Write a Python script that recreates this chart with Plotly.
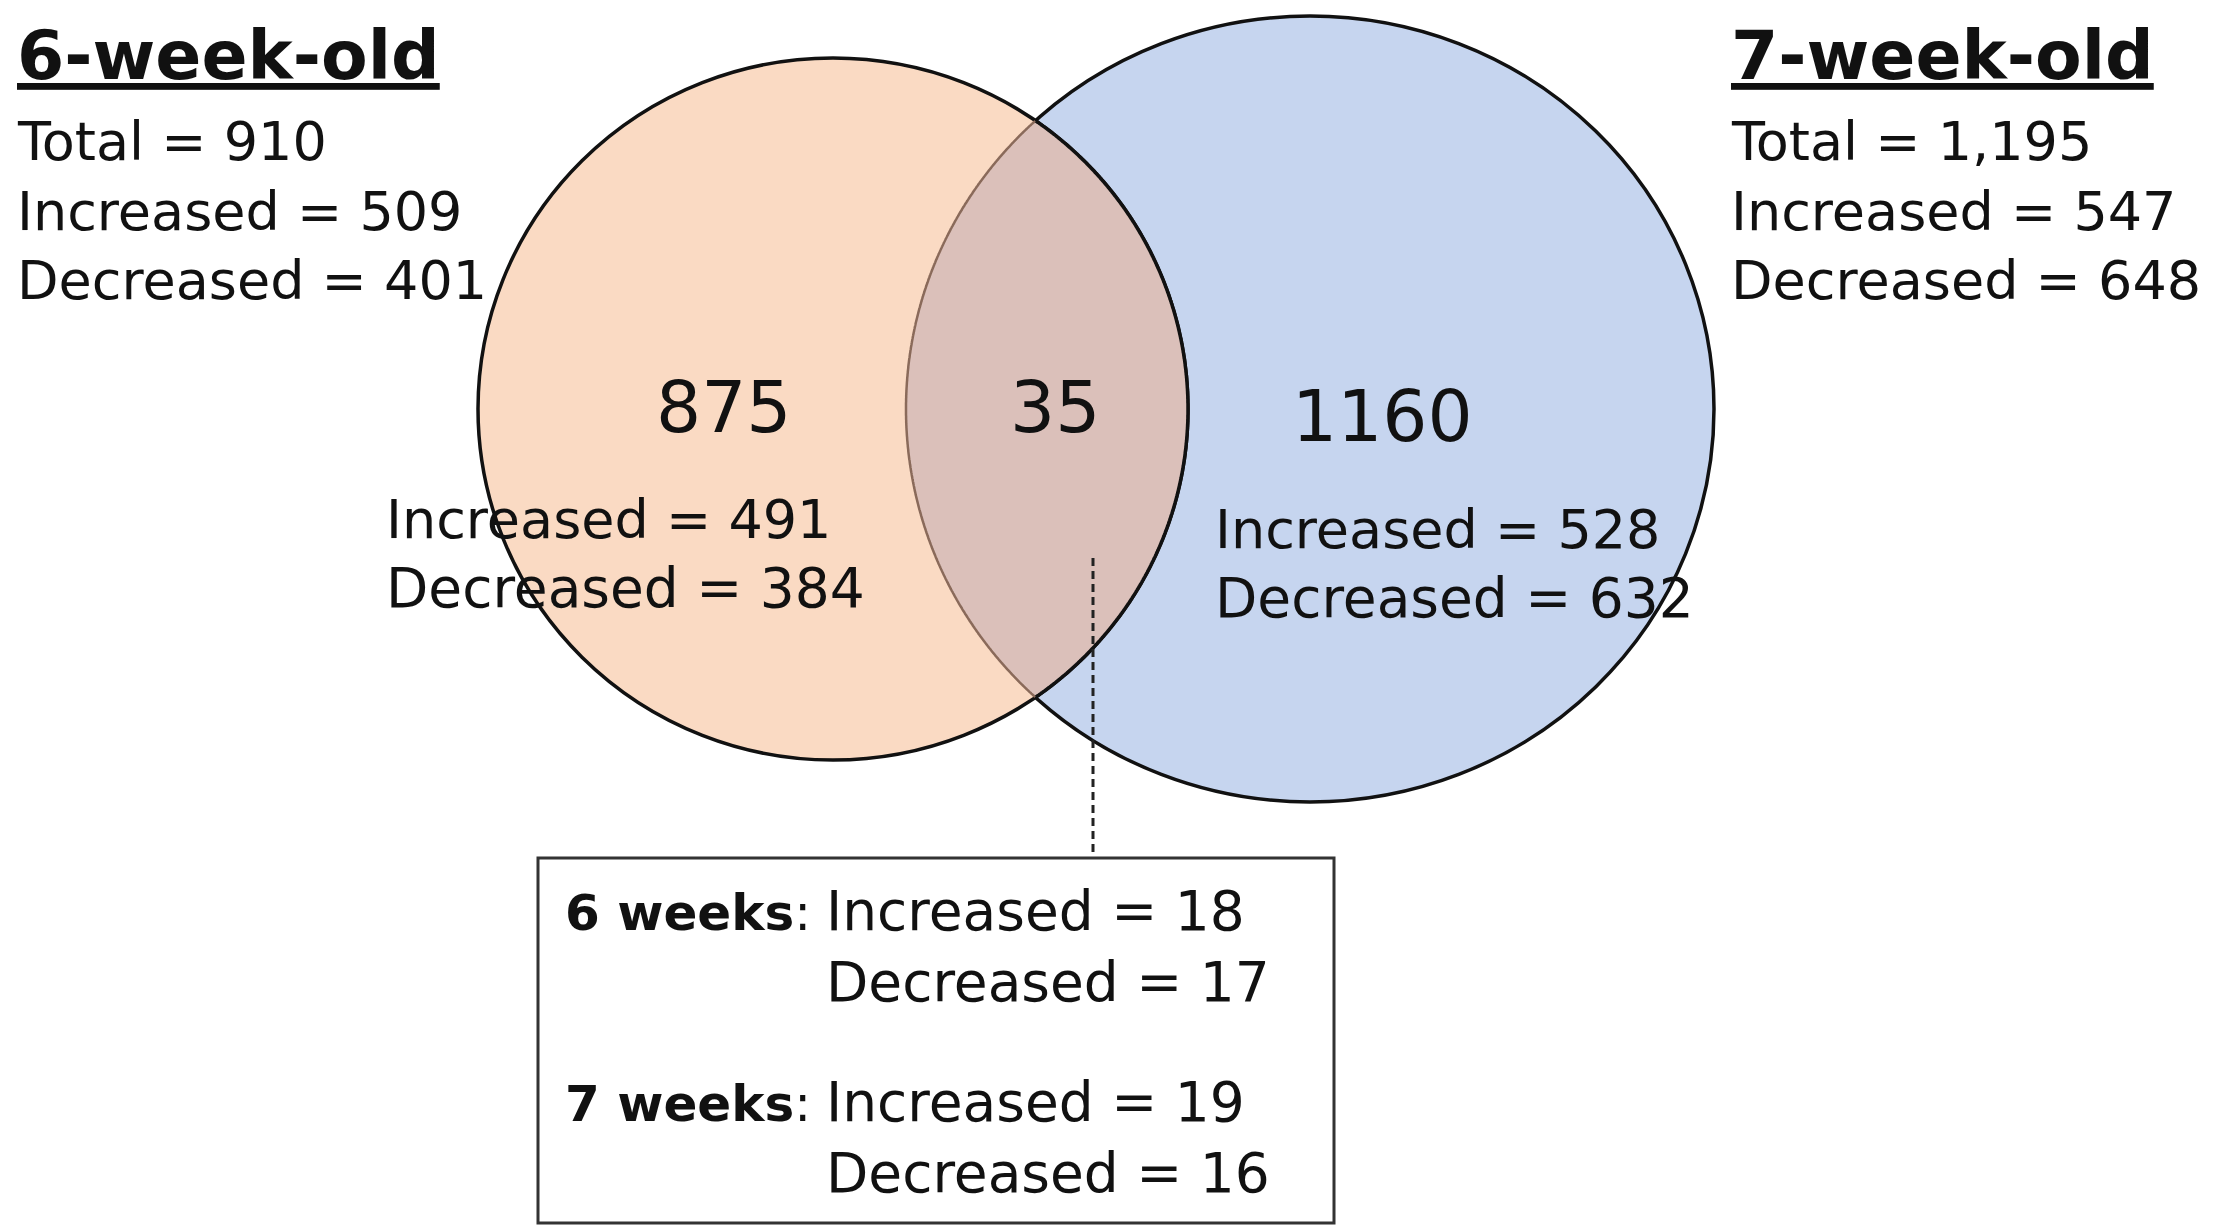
import numpy as np
import plotly.graph_objects as go

# Venn counts
groups = ["6-week-old", "7-week-old"]
totals = [910, 1195]
increased = [509, 547]
decreased = [401, 648]
only_counts = [875, 1160]
only_increased = [491, 528]
only_decreased = [384, 632]
shared_count = 35
shared_labels = ["6 weeks", "7 weeks"]
shared_increased = [18, 19]
shared_decreased = [17, 16]

W, H = 2217, 1232
FONT = "DejaVu Sans"
INK = "#111111"

# circle geometry (pixel units): cx, cy, rx, ry
left_c = (825, 401, 355, 351)
right_c = (1302, 401, 404, 393)

PEACH = "#FADAC3"
BLUE = "#C6D5EF"
LENS = "#DBC0BA"
BROWN = "#8A6A5A"


def ellipse_box(c):
    cx, cy, rx, ry = c
    return dict(x0=cx - rx, x1=cx + rx, y0=cy - ry, y1=cy + ry)


def inside(c, x, y):
    cx, cy, rx, ry = c
    return ((x - cx) / rx) ** 2 + ((y - cy) / ry) ** 2 <= 1


def arc_inside(c, other, t):
    cx, cy, rx, ry = c
    x = cx + rx * np.cos(t)
    y = cy + ry * np.sin(t)
    m = inside(other, x, y)
    return x[m], y[m]


def to_path(xs, ys, close=False):
    p = "M " + " L ".join(f"{a:.1f},{b:.1f}" for a, b in zip(xs, ys))
    return p + (" Z" if close else "")


t1 = np.linspace(-np.pi, np.pi, 3000)
t2 = np.linspace(0, 2 * np.pi, 3000)
lx, ly = arc_inside(left_c, right_c, t1)   # left circle's right arc (top -> bottom)
rx_, ry_ = arc_inside(right_c, left_c, t2)  # right circle's left arc (bottom -> top)

shapes = [
    dict(type="circle", xref="x", yref="y", fillcolor=BLUE,
         line=dict(color=INK, width=3.5), **ellipse_box(right_c)),
    dict(type="circle", xref="x", yref="y", fillcolor=PEACH,
         line=dict(color=INK, width=3.5), **ellipse_box(left_c)),
    dict(type="path", xref="x", yref="y", fillcolor=LENS, line=dict(width=0),
         path=to_path(np.r_[lx, rx_], np.r_[ly, ry_], close=True)),
    dict(type="path", xref="x", yref="y", line=dict(color=BROWN, width=2.5),
         path=to_path(rx_, ry_)),
    dict(type="path", xref="x", yref="y", line=dict(color=INK, width=3.5),
         path=to_path(lx, ly)),
    # leader line and shared box
    dict(type="line", xref="x", yref="y", x0=1085, x1=1085, y0=550, y1=850,
         line=dict(color="#222222", width=3, dash="8px,5px")),
    dict(type="rect", xref="x", yref="y", x0=530, x1=1326, y0=850, y1=1215,
         line=dict(color="#333333", width=3), fillcolor="rgba(0,0,0,0)"),
]

annotations = []


def label(x, baseline, text, size=54, anchor="left"):
    annotations.append(dict(
        x=x, y=baseline - 0.346 * size, xref="x", yref="y", text=text,
        showarrow=False, xanchor=anchor, yanchor="middle",
        font=dict(family=FONT, size=size, color=INK),
    ))


# group headers with totals
for gx, g, tot, inc, dec in zip([7, 1721], groups, totals, increased, decreased):
    label(gx, 71, f"<b><u>{g}</u></b>", size=68)
    label(gx, 152, f"Total = {tot:,}")
    label(gx, 222, f"Increased = {inc}")
    label(gx, 291, f"Decreased = {dec}")

# counts inside the circles
label(716, 424, str(only_counts[0]), size=71, anchor="center")
label(1047, 424, str(shared_count), size=71, anchor="center")
label(1374, 433, str(only_counts[1]), size=71, anchor="center")

for ix, b1, b2, inc, dec in zip([376, 1205], [530, 540], [599, 609],
                                only_increased, only_decreased):
    label(ix, b1, f"Increased = {inc}", size=54)
    label(ix, b2, f"Decreased = {dec}", size=55)

# shared breakdown box
for b1, b2, wk, inc, dec in zip([922, 1113], [993, 1184], shared_labels,
                                shared_increased, shared_decreased):
    label(555, b1, f"<b>{wk}</b>:", size=50)
    label(816, b1, f"Increased = {inc}", size=55)
    label(816, b2, f"Decreased = {dec}", size=55)

fig = go.Figure()
fig.add_trace(go.Scatter(x=[0, W], y=[0, H], mode="markers",
                         marker=dict(opacity=0), hoverinfo="skip", showlegend=False))
fig.update_layout(
    width=W, height=H, margin=dict(l=0, r=0, t=0, b=0),
    paper_bgcolor="white", plot_bgcolor="white",
    xaxis=dict(range=[0, W], visible=False, fixedrange=True),
    yaxis=dict(range=[H, 0], visible=False, fixedrange=True),
    shapes=shapes, annotations=annotations, showlegend=False,
)
fig.write_html("out.html")
